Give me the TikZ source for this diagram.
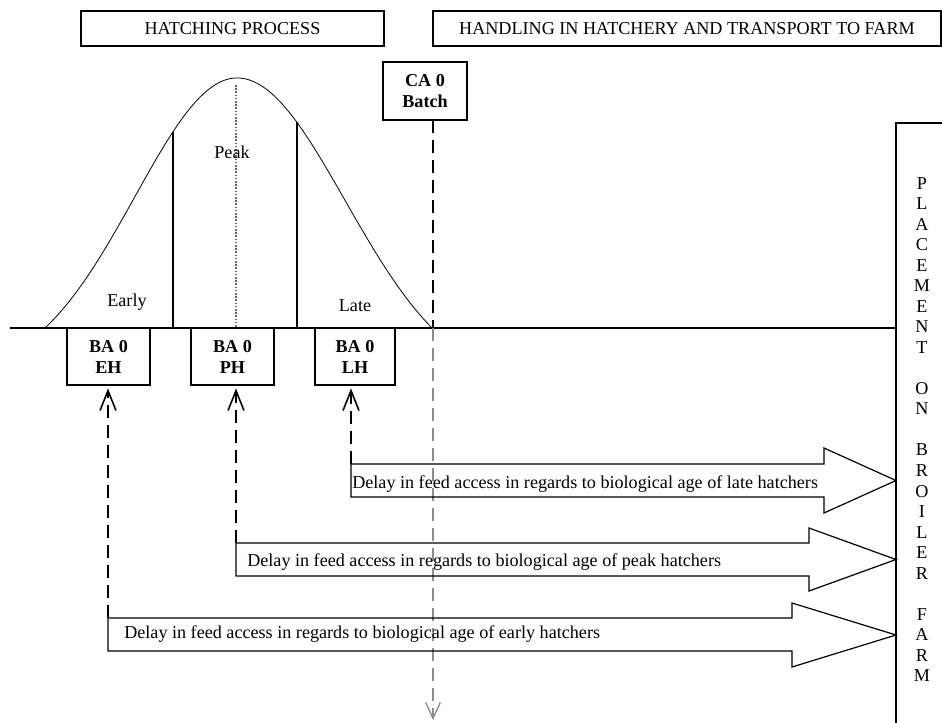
\documentclass[tikz,border=0pt]{standalone}
\usepackage{fontspec}
\setmainfont{Liberation Serif}
\usetikzlibrary{arrows.meta}
\begin{document}
\begin{tikzpicture}[x=0.75pt,y=-0.75pt,
  every node/.style={font=\fontsize{13.6}{15.4}\selectfont, inner sep=0pt},
  hdr/.style={draw, line width=1.1pt, minimum height=26.25pt},
  bbox/.style={draw, line width=1.1pt, minimum width=62.25pt, minimum height=42.75pt,
    align=center, font=\fontsize{13.6}{15.8}\selectfont\bfseries},
  blk/.style={draw, line width=0.9pt},
  dashblk/.style={line width=1.6pt, dash pattern=on 10pt off 5pt},
  dashgrey/.style={line width=1.1pt, draw=black!45, dash pattern=on 10pt off 5pt},
  upto/.style={-{Straight Barb[length=15pt,width=12pt,line width=1.2pt]}, shorten >=2pt},
  downto/.style={-{Straight Barb[length=12pt,width=11pt,line width=1pt]}},
  solidline/.style={line width=1.1pt},
  arrtext/.style={anchor=west}
]
\useasboundingbox (0,0) rectangle (942,722);

% header boxes
\node[hdr, minimum width=227.25pt] (hp) at (232.5,28.5) {HATCHING PROCESS};
\node[hdr, minimum width=381pt] (hh) at (687,28.5) {HANDLING IN HATCHERY AND TRANSPORT TO FARM};

% bell curve
\pgfmathsetmacro{\gaussL}{exp(-0.5*(192/102)^2)}
\pgfmathsetmacro{\gaussR}{exp(-0.5*(195/108)^2)}
\pgfmathsetmacro{\ya}{328-250*(exp(-0.5*(64/102)^2)-\gaussL)/(1-\gaussL)}
\pgfmathsetmacro{\yb}{328-250*(exp(-0.5*(60/108)^2)-\gaussR)/(1-\gaussR)}
\draw[line width=0.6pt] plot[domain=-192:0,samples=70] ({237+\x},{328-250*(exp(-0.5*(\x/102)^2)-\gaussL)/(1-\gaussL)})
  -- plot[domain=0:195,samples=70] ({237+\x},{328-250*(exp(-0.5*(\x/108)^2)-\gaussR)/(1-\gaussR)});

% base line and dividers
\coordinate (bl) at (10,328);
\coordinate (br) at (896,328);
\draw[solidline] (bl) -- (br);
\coordinate (d1t) at (173,\ya);
\coordinate (d1b) at (173,328);
\coordinate (d2t) at (297,\yb);
\coordinate (d2b) at (297,328);
\draw[solidline] (d1t) -- (d1b);
\draw[solidline] (d2t) -- (d2b);
\coordinate (pkt) at (236,85);
\coordinate (pkb) at (236,328);
\draw[line width=0.8pt, draw=black!60, dash pattern=on 1.2pt off 1.2pt] (pkt) -- (pkb);

\node (early) at (127,302) {Early};
\node (peak) at (232,152) {Peak};
\node (late) at (355,306) {Late};

% right box
\draw[solidline] (896,730) -- (896,123) -- (950,123);
\node[align=center] (farm) at (922,429.5) {P\\L\\A\\C\\E\\M\\E\\N\\T\\\mbox{}\\O\\N\\\mbox{}\\B\\R\\O\\I\\L\\E\\R\\\mbox{}\\F\\A\\R\\M};

% BA and CA boxes
\node[bbox] (EH) at (108.5,356.5) {BA 0\\EH};
\node[bbox] (PH) at (232.5,356.5) {BA 0\\PH};
\node[bbox, minimum width=60pt] (LH) at (355,356.5) {BA 0\\LH};
\node[bbox, minimum width=63pt, minimum height=43.5pt] (CA) at (425,91) {CA 0\\Batch};

% CA drop line
\coordinate (cad) at (433,120);
\coordinate (cab) at (433,328);
\coordinate (cae) at (433,720);
\draw[dashblk] (cad) -- (cab);
\draw[dashgrey, downto] (cab) -- (cae);

% block arrows
\draw[blk] (351,464) -- (824,464) -- (824,448) -- (896,480.5) -- (824,513) -- (824,497) -- (351,497) -- cycle;
\draw[blk] (236,543) -- (809,543) -- (809,528) -- (896,559.5) -- (809,591) -- (809,576) -- (236,576) -- cycle;
\draw[blk] (108,618) -- (792,618) -- (792,603) -- (896,635) -- (792,667) -- (792,651) -- (108,651) -- cycle;
\coordinate (lc) at (351,464);
\coordinate (pc) at (236,543);
\coordinate (ec) at (108,618);

\node[arrtext] (lt) at (352,484) {Delay in feed access in regards to biological age of late hatchers};
\node[arrtext] (pt) at (247,562) {Delay in feed access in regards to biological age of peak hatchers};
\node[arrtext] (et) at (124,634) {Delay in feed access in regards to biological age of early hatchers};

% connectors up
\draw[dashblk, upto] (lc) -- (lc |- LH.south);
\draw[dashblk, upto] (pc) -- (pc |- PH.south);
\draw[dashblk, upto] (ec) -- (ec |- EH.south);
\end{tikzpicture}
\end{document}
